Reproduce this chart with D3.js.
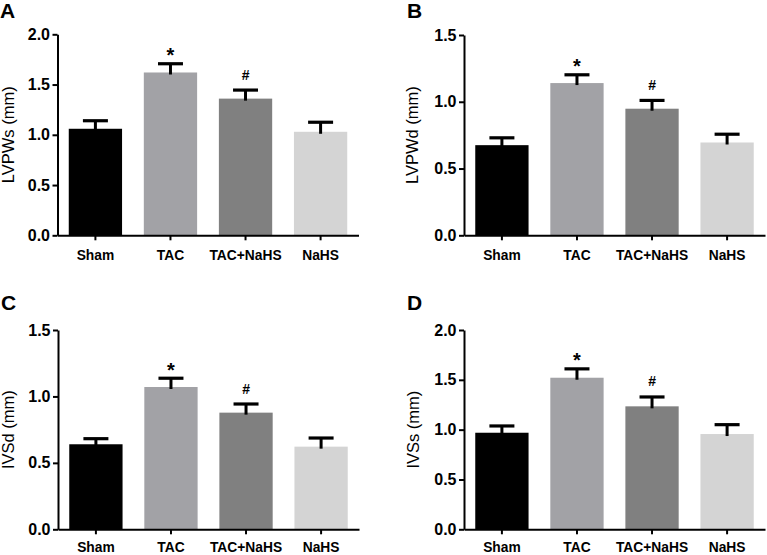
<!DOCTYPE html>
<html><head><meta charset="utf-8">
<script src="https://cdn.jsdelivr.net/npm/d3@7"></script>
<style>body{margin:0;background:#fff}svg{display:block;font-family:"Liberation Sans",Arial,sans-serif}</style>
</head><body>
<svg id="c" width="767" height="555"></svg>
<script>
const categories = ["Sham", "TAC", "TAC+NaHS", "NaHS"];
const barColors = ["#000000", "#a2a2a6", "#808080", "#d4d4d4"];
const markers = ["", "*", "#", ""];

const lvpwsMean = [1.06, 1.62, 1.36, 1.03];
const lvpwsErr  = [0.08, 0.087, 0.085, 0.095];
const lvpwdMean = [0.675, 1.14, 0.948, 0.695];
const lvpwdErr  = [0.055, 0.062, 0.062, 0.062];
const ivsdMean  = [0.64, 1.071, 0.878, 0.622];
const ivsdErr   = [0.042, 0.066, 0.065, 0.065];
const ivssMean  = [0.969, 1.521, 1.234, 0.956];
const ivssErr   = [0.068, 0.089, 0.094, 0.094];

const ticks2 = [0, 0.5, 1.0, 1.5, 2.0];
const ticks15 = [0, 0.5, 1.0, 1.5];

const panels = [
  {letter:"A", label:"LVPWs (mm)", mean:lvpwsMean, err:lvpwsErr, ticks:ticks2, ox:57.5, top:34.3, bottom:235.3, lx:0, ly:18.3, yl:9, xpad:10},
  {letter:"B", label:"LVPWd (mm)", mean:lvpwdMean, err:lvpwdErr, ticks:ticks15, ox:464, top:35, bottom:235.3, lx:407, ly:18.3, yl:413, xpad:10},
  {letter:"C", label:"IVSd (mm)", mean:ivsdMean, err:ivsdErr, ticks:ticks15, ox:58, top:330, bottom:529.3, lx:1, ly:310, yl:9, xpad:8},
  {letter:"D", label:"IVSs (mm)", mean:ivssMean, err:ivssErr, ticks:ticks2, ox:464, top:330, bottom:529.3, lx:407, ly:310, yl:414, xpad:8}
];

const svg = d3.select("#c");
const W = 301;

panels.forEach(p => {
  const g = svg.append("g");
  const x = d3.scaleBand().domain(categories).range([p.ox, p.ox + W]).paddingInner(0.29).paddingOuter(0.15);
  const y = d3.scaleLinear().domain([0, d3.max(p.ticks)]).range([p.bottom, p.top]);

  g.selectAll("rect.bar").data(categories).join("rect")
    .attr("x", d => x(d)).attr("width", x.bandwidth())
    .attr("y", (d,i) => y(p.mean[i])).attr("height", (d,i) => y(0) - y(p.mean[i]))
    .attr("fill", (d,i) => barColors[i]);

  const capW = 25;
  categories.forEach((c,i) => {
    const cx = x(c) + x.bandwidth()/2;
    const yt = y(p.mean[i] + p.err[i]);
    g.append("line").attr("x1", cx).attr("x2", cx).attr("y1", y(p.mean[i]) + 2).attr("y2", yt)
      .attr("stroke", "#000").attr("stroke-width", 3);
    g.append("line").attr("x1", cx - capW/2).attr("x2", cx + capW/2).attr("y1", yt).attr("y2", yt)
      .attr("stroke", "#000").attr("stroke-width", 3.2);
    if (markers[i] === "*") {
      g.append("text").attr("x", cx).attr("y", yt - 1.5).attr("text-anchor", "middle")
        .attr("font-size", 20).attr("font-weight", "bold").text("*");
    } else if (markers[i] === "#") {
      g.append("text").attr("x", cx).attr("y", yt - 10.5).attr("text-anchor", "middle")
        .attr("font-size", 14).attr("font-weight", "bold").text("#");
    }
  });

  const ya = g.append("g").attr("transform", `translate(${p.ox},0)`)
    .call(d3.axisLeft(y).tickValues(p.ticks).tickFormat(d3.format(".1f")).tickSize(5).tickSizeOuter(0).tickPadding(2.5));
  ya.select(".domain").attr("stroke-width", 2);
  ya.selectAll(".tick line").attr("stroke-width", 2);
  ya.selectAll(".tick text").attr("font-size", 16).attr("font-weight", "bold").attr("fill", "#000")
    .attr("font-family", "Liberation Sans, Arial, sans-serif");

  const xa = g.append("g").attr("transform", `translate(0,${p.bottom})`)
    .call(d3.axisBottom(x).tickSize(5).tickSizeOuter(0).tickPadding(p.xpad));
  xa.select(".domain").attr("stroke-width", 2);
  xa.selectAll(".tick line").attr("stroke-width", 2);
  xa.selectAll(".tick text").attr("font-size", 13.8).attr("font-weight", "bold").attr("fill", "#000")
    .attr("font-family", "Liberation Sans, Arial, sans-serif");

  g.append("text").attr("transform", `translate(${p.yl + 5},${(p.top + p.bottom)/2}) rotate(-90)`)
    .attr("text-anchor", "middle").attr("font-size", 16.5).text(p.label);

  g.append("text").attr("x", p.lx).attr("y", p.ly).attr("font-size", 21).attr("font-weight", "bold").text(p.letter);
});
</script>
</body></html>
